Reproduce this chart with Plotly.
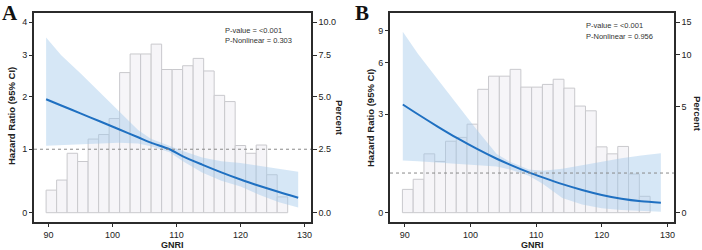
import numpy as np
import plotly.graph_objects as go

# ---------------- data ----------------
# histogram of GNRI (percent of patients per bin), shared by both panels
bin_left = 89.64
bin_width = 1.64
pct = [0.86, 1.25, 2.33, 1.99, 2.94, 3.14, 3.88, 6.37, 7.58, 7.58, 8.28, 6.56,
       6.56, 6.80, 7.28, 6.47, 5.06, 4.73, 2.66, 2.33, 2.68, 1.46, 0.60]

# Panel A restricted cubic spline (HR, 95% CI)
xA = [89.64, 92, 95, 98, 101, 104, 106, 108.9, 111, 114, 117, 120, 123, 126, 129]
hrA = [1.94, 1.81, 1.654, 1.50, 1.352, 1.208, 1.114, 1.00, 0.881, 0.746, 0.622, 0.509, 0.408, 0.315, 0.228]
upA = [3.51, 3.00, 2.53, 2.09, 1.70, 1.34, 1.18, 1.05, 0.97, 0.86, 0.80, 0.77, 0.72, 0.67, 0.63]
loA = [1.06, 1.07, 1.09, 1.10, 1.11, 1.10, 1.05, 0.95, 0.80, 0.62, 0.49, 0.40, 0.27, 0.16, 0.08]

# Panel B
xB = [89.7, 92, 95, 98, 101, 104, 106, 108.9, 111, 114, 117, 120, 123, 126, 129]
hrB = [3.45, 3.00, 2.494, 2.064, 1.706, 1.404, 1.235, 1.018, 0.883, 0.706, 0.558, 0.433, 0.339, 0.277, 0.243]
upB = [8.88, 6.74, 4.85, 3.43, 2.36, 1.55, 1.32, 1.10, 1.06, 1.12, 1.22, 1.32, 1.42, 1.50, 1.57]
loB = [1.35, 1.33, 1.30, 1.26, 1.22, 1.18, 1.10, 0.93, 0.72, 0.36, 0.20, 0.105, 0.065, 0.04, 0.024]

x_ticks = [90, 100, 110, 120, 130]
hr_ticks_A = [0, 1, 2, 3, 4]
pct_ticks_A = [0, 2.5, 5, 7.5, 10]
pct_lab_A = ["0.0", "2.5", "5.0", "7.5", "10.0"]
hr_ticks_B = [0, 3, 6, 9]
pct_ticks_B = [0, 5, 10, 15]

pct_per_hr_A = 2.5
pct_per_hr_B = 1.5


def T(v):
    # pseudo-log transform (sigma = 1)
    return np.arcsinh(np.asarray(v, dtype=float) / 2.0)


W, H = 702, 250
def px(x): return x / W
def py(y): return 1 - y / H

centers = [bin_left + bin_width * (i + 0.5) for i in range(len(pct))]

LINE = "#1f70c1"
BAND = "rgba(165,202,235,0.45)"
BAR_F = "#f6f5f8"
BAR_L = "#c9c9cd"
AX = "#2b2b2b"
FONT = "Liberation Sans, Arial, sans-serif"

fig = go.Figure()

panels = [
    dict(x=xA, hr=hrA, up=upA, lo=loA, k=pct_per_hr_A, xa="x", yb="y", yo="y2"),
    dict(x=xB, hr=hrB, up=upB, lo=loB, k=pct_per_hr_B, xa="x2", yb="y3", yo="y4"),
]

for p in panels:
    hbar = T(np.array(pct) / p["k"])
    fig.add_trace(go.Bar(x=centers, y=hbar, width=bin_width, xaxis=p["xa"], yaxis=p["yb"],
                         marker=dict(color=BAR_F, line=dict(color=BAR_L, width=1)),
                         showlegend=False, hoverinfo="skip"))
    fig.add_trace(go.Scatter(x=list(p["x"]) + list(p["x"])[::-1],
                             y=list(T(p["up"])) + list(T(p["lo"]))[::-1],
                             fill="toself", fillcolor=BAND, line=dict(width=0),
                             mode="lines", xaxis=p["xa"], yaxis=p["yo"], showlegend=False,
                             hoverinfo="skip"))
    fig.add_trace(go.Scatter(x=p["x"], y=T(p["hr"]), mode="lines",
                             line=dict(color=LINE, width=2, shape="spline", smoothing=0.8),
                             xaxis=p["xa"], yaxis=p["yo"], showlegend=False))

ydom = [py(221.5), py(13.3)]
rngA = [-0.0667, 1.512]
rngB = [-0.107, 2.42]

xcommon = dict(range=[87.75, 131.0], tickvals=x_ticks, ticks="outside", ticklen=4,
               tickwidth=1.2, tickcolor=AX, showline=True, linecolor=AX, linewidth=1.6,
               mirror=True, showgrid=False, zeroline=False,
               tickfont=dict(size=9, color="#222", family=FONT))
ybase = dict(ticks="outside", ticklen=4, tickwidth=1.2, tickcolor=AX, showline=True,
             linecolor=AX, linewidth=1.6, mirror=True, showgrid=False, zeroline=False,
             side="right", tickfont=dict(size=9, color="#222", family=FONT), domain=ydom)
yover = dict(ticks="outside", ticklen=4, tickwidth=1.2, tickcolor=AX, showline=False,
             showgrid=False, zeroline=False, side="left",
             tickfont=dict(size=9, color="#222", family=FONT))

fig.update_layout(
    width=W, height=H, margin=dict(l=0, r=0, t=0, b=0),
    paper_bgcolor="white", plot_bgcolor="white", barmode="overlay",
    font=dict(family=FONT),
    xaxis=dict(domain=[px(34), px(311)], anchor="y", **xcommon),
    xaxis2=dict(domain=[px(390), px(674)], anchor="y3", **xcommon),
    yaxis=dict(anchor="x", range=rngA, tickvals=list(T(np.array(pct_ticks_A) / pct_per_hr_A)),
               ticktext=pct_lab_A, **ybase),
    yaxis2=dict(anchor="x", overlaying="y", range=rngA, tickvals=list(T(hr_ticks_A)),
                ticktext=[str(v) for v in hr_ticks_A], **yover),
    yaxis3=dict(anchor="x2", range=rngB, tickvals=list(T(np.array(pct_ticks_B) / pct_per_hr_B)),
                ticktext=[str(v) for v in pct_ticks_B], **ybase),
    yaxis4=dict(anchor="x2", overlaying="y3", range=rngB, tickvals=list(T(hr_ticks_B)),
                ticktext=[str(v) for v in hr_ticks_B], **yover),
)

# reference line HR = 1
for xr, yr in [("x", "y2"), ("x2", "y4")]:
    fig.add_shape(type="line", xref=f"{xr} domain", x0=0, x1=1, yref=yr,
                  y0=float(T(1)), y1=float(T(1)), layer="above",
                  line=dict(color="#8a8a8a", width=1, dash="dot"))

ann = []
def text(x, y, s, size, bold=False, angle=0, xanchor="center", family=FONT, color="#222"):
    ann.append(dict(x=px(x), y=py(y), xref="paper", yref="paper", text=f"<b>{s}</b>" if bold else s,
                    showarrow=False, textangle=angle, xanchor=xanchor, yanchor="middle",
                    font=dict(size=size, color=color, family=family)))

text(10, 13, "A", 21, bold=True, family="Liberation Serif, Times New Roman, serif", color="#111")
text(362, 13, "B", 21, bold=True, family="Liberation Serif, Times New Roman, serif", color="#111")
text(12, 116, "Hazard Ratio (95% CI)", 9.5, bold=True, angle=-90)
text(370, 118, "Hazard Ratio (95% CI)", 9.5, bold=True, angle=-90)
text(340, 118, "Percent", 9.5, bold=True, angle=90)
text(697, 114, "Percent", 9.5, bold=True, angle=90)
text(172.5, 244.5, "GNRI", 9, bold=True)
text(532, 244.5, "GNRI", 9, bold=True)
text(222.5, 30, "P-value = &lt;0.001", 7.5, xanchor="left", color="#333")
text(222.5, 40.7, "P-Nonlinear = 0.303", 7.5, xanchor="left", color="#333")
text(584.3, 25.7, "P-value = &lt;0.001", 7.5, xanchor="left", color="#333")
text(584.3, 36, "P-Nonlinear = 0.956", 7.5, xanchor="left", color="#333")
fig.update_layout(annotations=ann)

fig.write_html("out.html")
